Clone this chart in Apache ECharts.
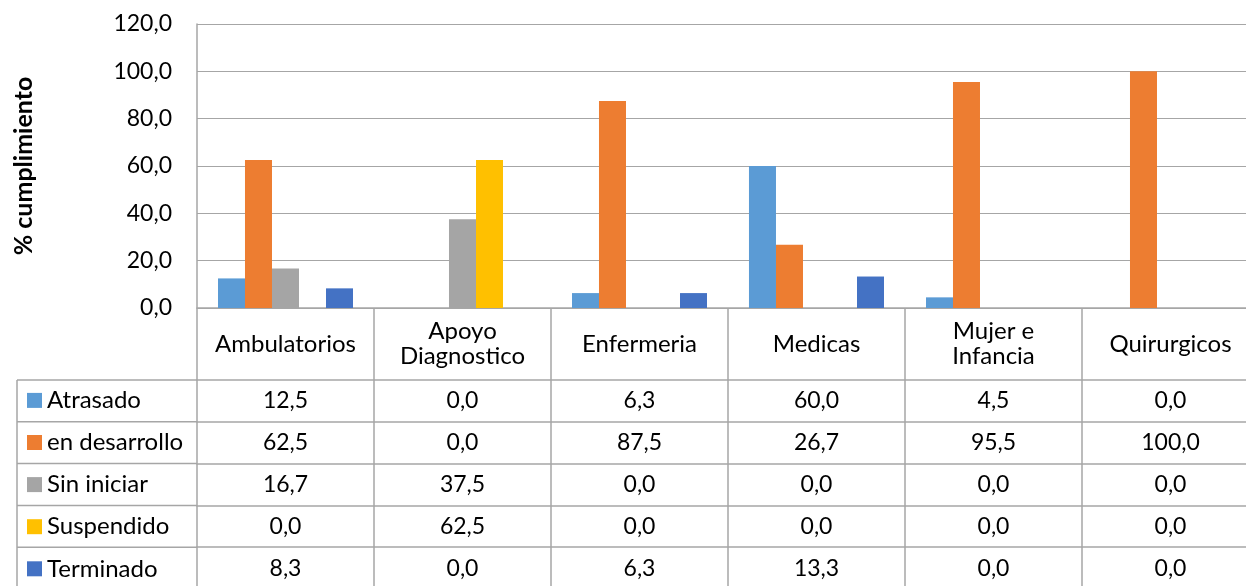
<!DOCTYPE html>
<html><head><meta charset="utf-8">
<script src="https://cdn.jsdelivr.net/npm/echarts@6/dist/echarts.min.js"></script>
<style>html,body{margin:0;padding:0;background:#fff}#c{width:1246px;height:586px}</style>
</head><body><div id="c"></div>
<script>
var categories = ['Ambulatorios', 'Apoyo\nDiagnostico', 'Enfermeria', 'Medicas', 'Mujer e\nInfancia', 'Quirurgicos'];
var seriesNames = ['Atrasado', 'en desarrollo', 'Sin iniciar', 'Suspendido', 'Terminado'];
var atrasado = [12.5, 0.0, 6.3, 60.0, 4.5, 0.0];
var enDesarrollo = [62.5, 0.0, 87.5, 26.7, 95.5, 100.0];
var sinIniciar = [16.7, 37.5, 0.0, 0.0, 0.0, 0.0];
var suspendido = [0.0, 62.5, 0.0, 0.0, 0.0, 0.0];
var terminado = [8.3, 0.0, 6.3, 13.3, 0.0, 0.0];
var yTicks = [0, 20, 40, 60, 80, 100, 120];

var values = [atrasado, enDesarrollo, sinIniciar, suspendido, terminado];
var colors = ['#5B9BD5', '#ED7D31', '#A5A5A5', '#FFC000', '#4472C4'];
var FONT = 'Lato';
var FS = 24;
var FSN = 23;
var lineCol = '#a6a6a6';
function fmt(v) { return v.toFixed(1).replace('.', ','); }

var gridLeft = 197, gridTop = 24, gridBottomY = 308, catW = 177;
var headerH = 72, rowH = 41.8;

var xAxes = [{
  type: 'category', data: categories, gridIndex: 0, position: 'bottom',
  axisLine: { show: true, lineStyle: { color: lineCol, width: 1.5 } },
  axisTick: { show: true, length: headerH, lineStyle: { color: lineCol, width: 1.5 } },
  axisLabel: { margin: 36, verticalAlign: 'middle', fontFamily: FONT, fontSize: FS, color: '#000', lineHeight: 25, interval: 0 }
}];
for (var i = 0; i < values.length; i++) {
  (function (arr, k) {
    xAxes.push({
      type: 'category', data: categories, gridIndex: 0, position: 'bottom',
      offset: headerH + rowH * k,
      axisLine: { show: true, lineStyle: { color: lineCol, width: 1.5 } },
      axisTick: { show: true, length: rowH, lineStyle: { color: lineCol, width: 1.5 } },
      axisLabel: {
        margin: rowH / 2, verticalAlign: 'middle', fontFamily: FONT, fontSize: FSN, color: '#000', interval: 0,
        formatter: function (val, idx) { return fmt(arr[idx]); }
      }
    });
  })(values[i], i);
}

var series = seriesNames.map(function (n, i) {
  return { name: n, type: 'bar', data: values[i], itemStyle: { color: colors[i] }, barGap: '0%', barCategoryGap: '23.7%', xAxisIndex: 0 };
});

var graphics = [];
var rowTop0 = gridBottomY + headerH;
for (var r = 0; r <= values.length; r++) {
  var y = rowTop0 + rowH * r;
  graphics.push({ type: 'line', shape: { x1: 17, y1: y, x2: gridLeft, y2: y }, style: { stroke: lineCol, lineWidth: 1.5 }, silent: true });
}
graphics.push({ type: 'line', shape: { x1: 17, y1: rowTop0, x2: 17, y2: 600 }, style: { stroke: lineCol, lineWidth: 1.5 }, silent: true });

var chart = echarts.init(document.getElementById('c'));
chart.setOption({
  animation: false,
  textStyle: { fontFamily: FONT },
  grid: { left: gridLeft, top: gridTop, width: catW * 6, height: gridBottomY - gridTop, containLabel: false, outerBoundsMode: 'none' },
  legend: {
    orient: 'vertical', left: 27, top: rowTop0 + rowH / 2 - 12.5, height: 260, padding: 0,
    itemWidth: 15, itemHeight: 15, itemGap: 18.1,
    icon: 'rect',
    textStyle: { fontFamily: FONT, fontSize: FS, color: '#000', lineHeight: 22 },
    data: seriesNames
  },
  xAxis: xAxes,
  yAxis: {
    type: 'value', min: yTicks[0], max: yTicks[yTicks.length - 1], interval: yTicks[1] - yTicks[0],
    name: '% cumplimiento', nameLocation: 'middle', nameRotate: 90, nameGap: 161,
    nameTextStyle: { fontFamily: FONT, fontSize: 25, fontWeight: 'bold', color: '#000' },
    axisLine: { show: true, lineStyle: { color: lineCol, width: 1.5 } },
    axisTick: { show: false },
    splitLine: { show: true, lineStyle: { color: lineCol, width: 1.2 } },
    axisLabel: { margin: 25, fontFamily: FONT, fontSize: FSN, color: '#000', formatter: function (v) { return fmt(v); } }
  },
  series: series,
  graphic: graphics
});
</script></body></html>
